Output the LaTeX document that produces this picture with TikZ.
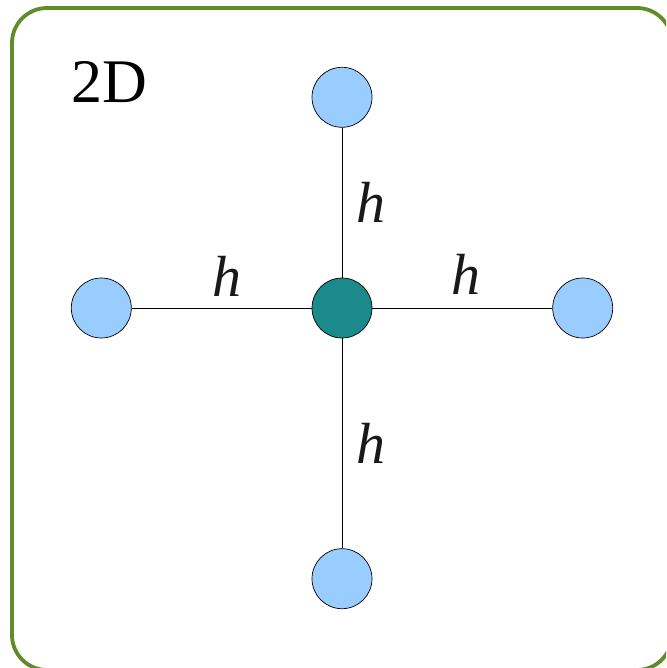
\documentclass[tikz,border=0pt]{standalone}
\usepackage{fontspec}
\setmainfont{Liberation Serif}
\usepackage{xcolor}
\usetikzlibrary{positioning}

\definecolor{framegreen}{RGB}{96,140,42}
\definecolor{siteblue}{RGB}{153,204,255}
\definecolor{siteteal}{RGB}{26,138,138}

\begin{document}
\begin{tikzpicture}[x=1pt, y=-1pt,
  site/.style={draw,circle,fill=siteblue,minimum size=60pt,inner sep=0pt,line width=0.7pt},
  centre/.style={site,fill=siteteal},
  bond/.style={line width=0.7pt},
  hlab/.style={inner sep=0pt,font=\fontsize{58}{60}\selectfont\itshape,text=black!90}]
  \clip (0,0) rectangle (666,668);
  \draw[framegreen,line width=3.8pt,rounded corners=35pt] (12,8) rectangle (672,670);
  \node[anchor=base west,inner sep=0pt,font=\fontsize{62}{64}\selectfont] (dim) at (71,103) {2D};
  \node[centre] (c) at (342,308) {};
  \node[site, above=150pt of c] (up) {};
  \node[site, below=210pt of c] (down) {};
  \node[site, left=180pt of c] (west) {};
  \node[site, right=180pt of c] (east) {};
  \draw[bond] (up) -- (c) node[midway,hlab,anchor=west,xshift=14pt]{h};
  \draw[bond] (c) -- (down) node[midway,hlab,anchor=west,xshift=14pt]{h};
  \draw[bond] (west) -- (c) node[midway,hlab,anchor=south,xshift=5pt,yshift=11pt]{h};
  \draw[bond] (c) -- (east) node[midway,hlab,anchor=south,xshift=4pt,yshift=13pt]{h};
\end{tikzpicture}
\end{document}
